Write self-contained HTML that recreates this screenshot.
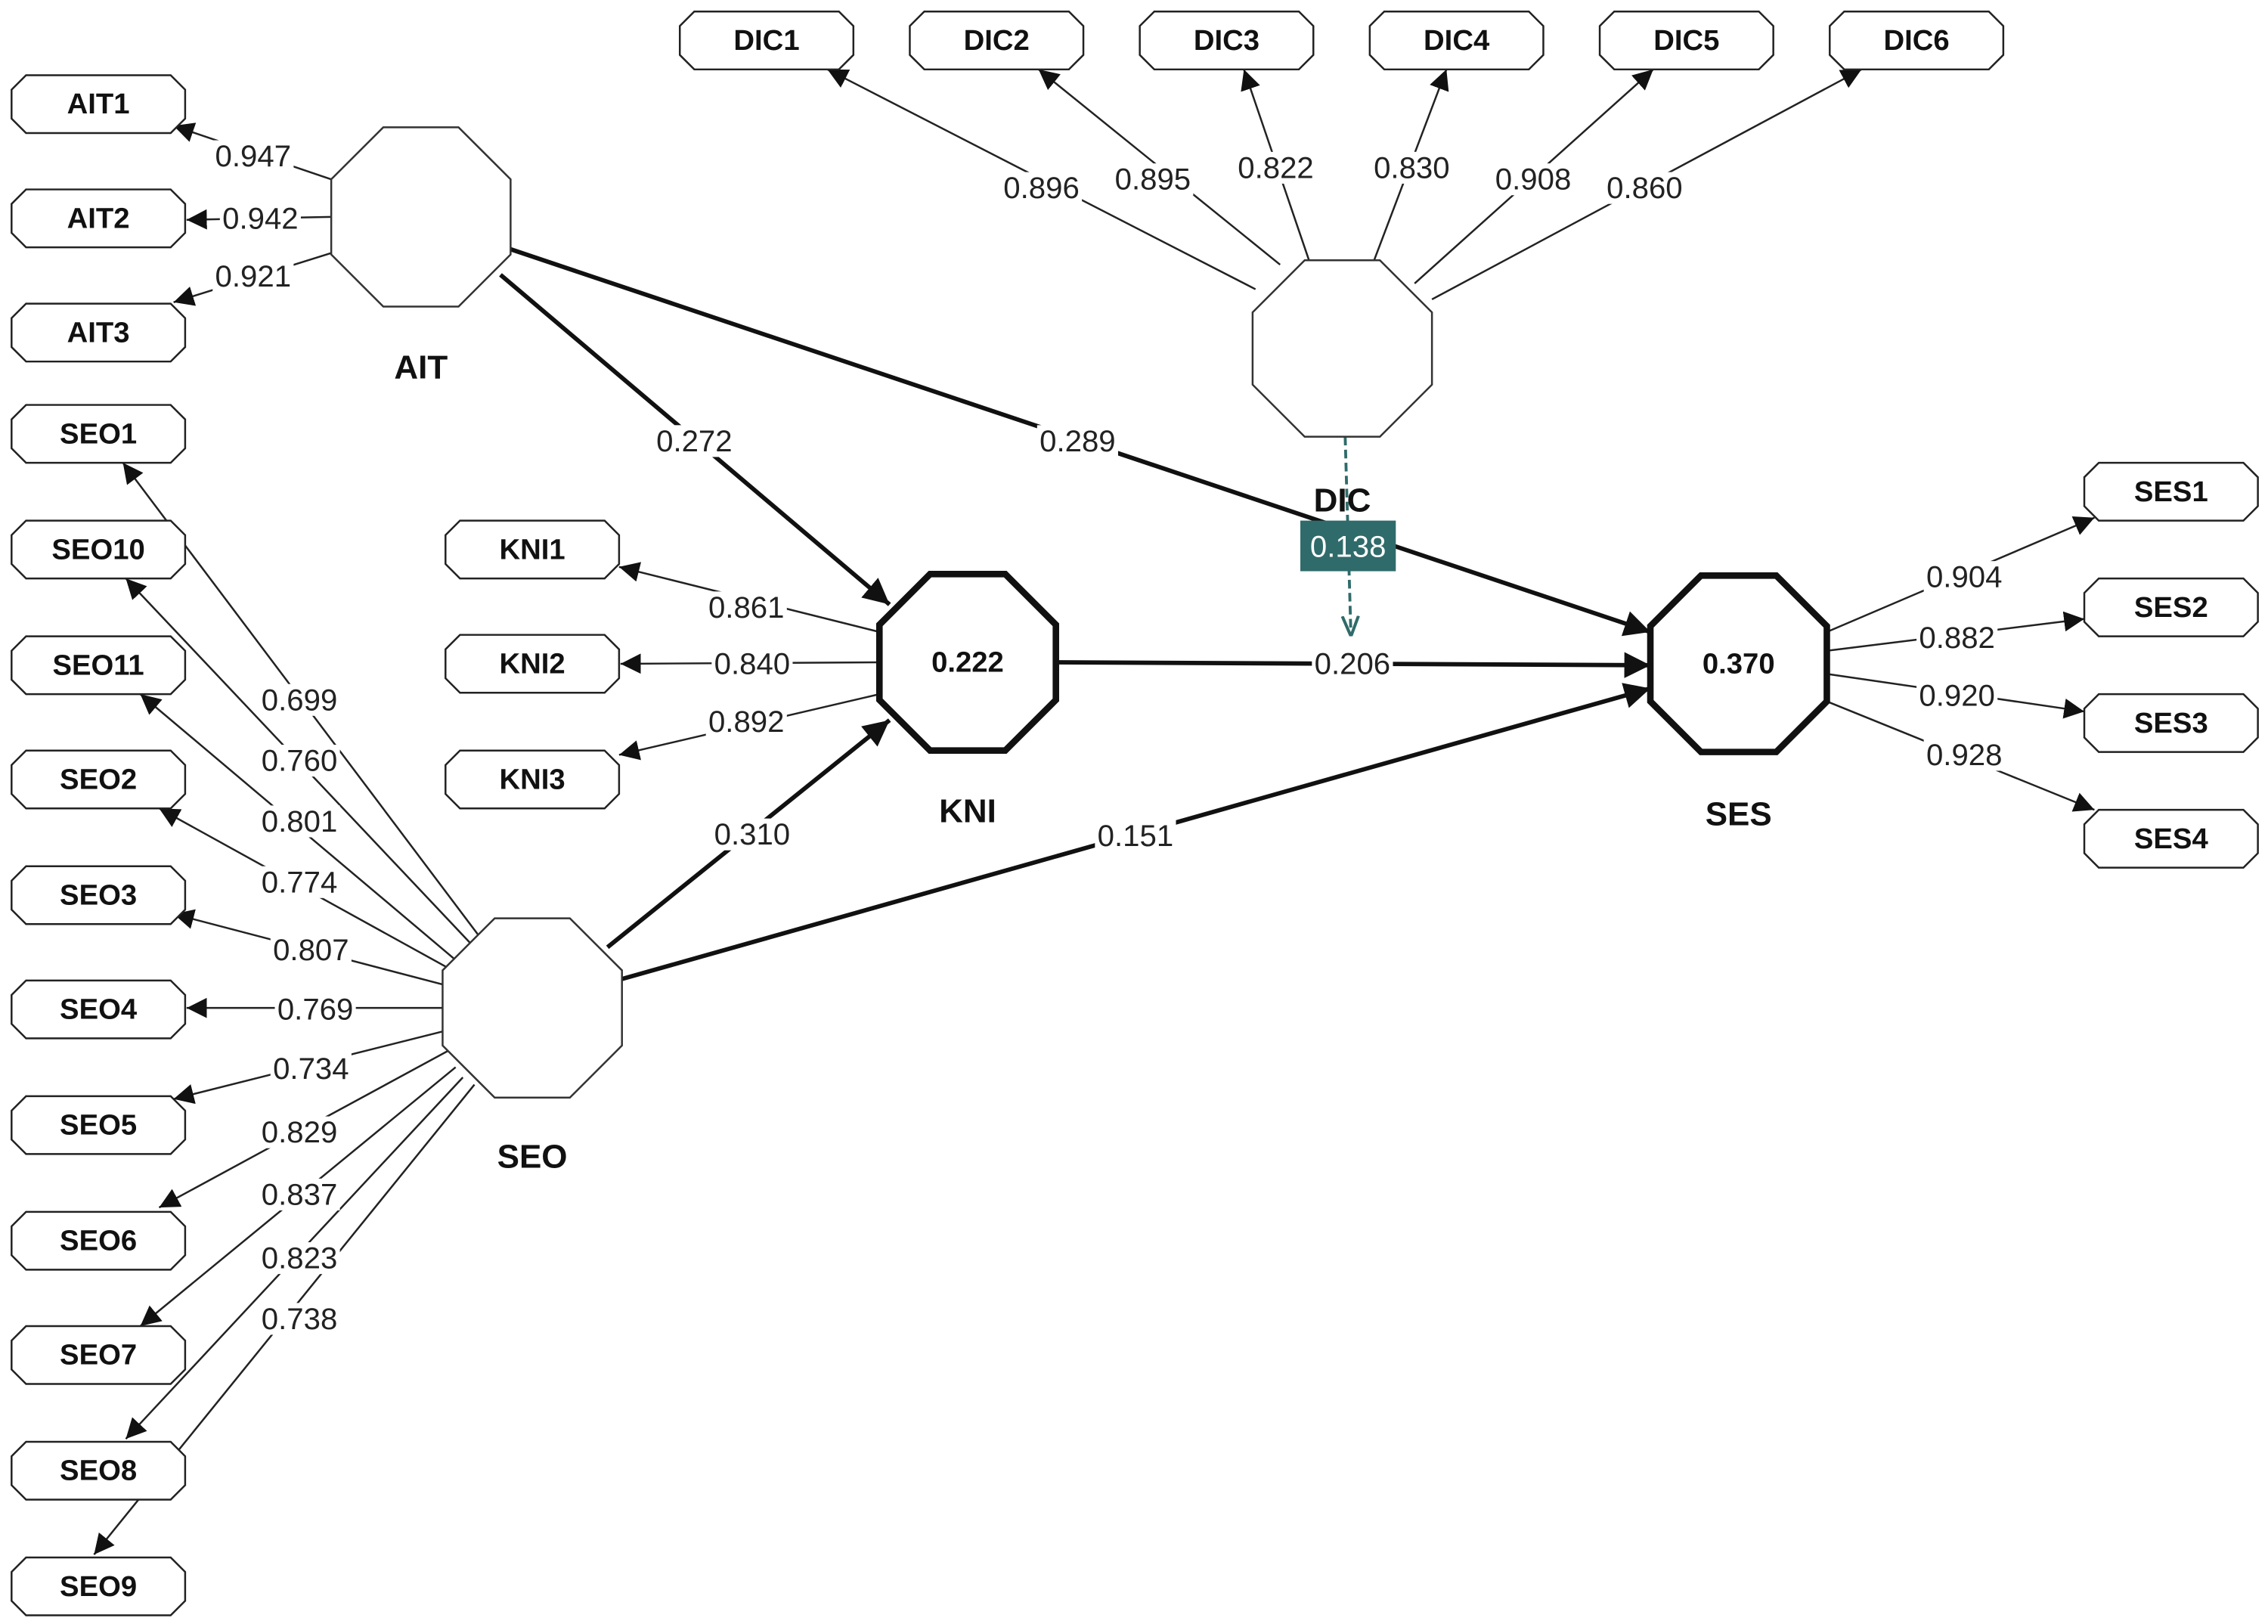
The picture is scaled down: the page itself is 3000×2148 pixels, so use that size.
<!DOCTYPE html>
<html><head><meta charset="utf-8"><style>
html,body{margin:0;padding:0;background:#fff;}
svg{display:block;}
text{font-family:"Liberation Sans",sans-serif;}
.lbl{font-size:21px;fill:#222;text-anchor:middle;dominant-baseline:central;}
.bx{font-size:20px;font-weight:bold;fill:#111;text-anchor:middle;dominant-baseline:central;}
.nm{font-size:23px;font-weight:bold;fill:#111;text-anchor:middle;dominant-baseline:central;}
.l{stroke:#222;stroke-width:1.3;fill:none;marker-end:url(#a);}
.s{stroke:#111;stroke-width:3;fill:none;marker-end:url(#b);}
.box{fill:#fff;stroke:#222;stroke-width:1.3;}
</style></head><body>
<svg width="3000" height="2148" viewBox="0 0 1568 1123" preserveAspectRatio="none">
<defs>
<marker id="a" viewBox="0 0 10 10" refX="10" refY="5" markerWidth="14" markerHeight="14" markerUnits="userSpaceOnUse" orient="auto"><path d="M0,0L10,5L0,10z" fill="#111"/></marker>
<marker id="b" viewBox="0 0 10 10" refX="10" refY="5" markerWidth="18" markerHeight="18" markerUnits="userSpaceOnUse" orient="auto"><path d="M0,0L10,5L0,10z" fill="#111"/></marker>
<marker id="c" viewBox="0 0 10 10" refX="10" refY="5" markerWidth="14" markerHeight="14" markerUnits="userSpaceOnUse" orient="auto"><path d="M0,1L10,5L0,9" fill="none" stroke="#2f6b6a" stroke-width="1.5"/></marker>
<rect id="lb" x="-28" y="-11" width="56" height="22" fill="#fff"/>
</defs>

<line class="l" x1="229" y1="124" x2="120" y2="87"/>
<line class="l" x1="229" y1="150" x2="129" y2="152"/>
<line class="l" x1="229" y1="175" x2="120" y2="209"/>

<line class="l" x1="868" y1="200" x2="572" y2="48"/>
<line class="l" x1="885" y1="183" x2="718" y2="48"/>
<line class="l" x1="905" y1="180" x2="860" y2="48"/>
<line class="l" x1="950" y1="180" x2="1000" y2="48"/>
<line class="l" x1="978" y1="196" x2="1143" y2="48"/>
<line class="l" x1="990" y1="207" x2="1287" y2="48"/>

<line class="l" x1="608" y1="437" x2="428" y2="392"/>
<line class="l" x1="608" y1="458" x2="429" y2="459"/>
<line class="l" x1="608" y1="480" x2="428" y2="522"/>

<line class="l" x1="1263" y1="437" x2="1448" y2="358"/>
<line class="l" x1="1263" y1="450" x2="1441" y2="428"/>
<line class="l" x1="1263" y1="466" x2="1441" y2="492"/>
<line class="l" x1="1263" y1="485" x2="1448" y2="560"/>

<line class="l" x1="331" y1="647" x2="85" y2="320"/>
<line class="l" x1="325" y1="652" x2="87" y2="400"/>
<line class="l" x1="314" y1="663" x2="97" y2="480"/>
<line class="l" x1="311" y1="670" x2="110" y2="559"/>
<line class="l" x1="307" y1="681" x2="120" y2="632"/>
<line class="l" x1="307" y1="697" x2="129" y2="697"/>
<line class="l" x1="307" y1="713" x2="120" y2="760"/>
<line class="l" x1="311" y1="726" x2="110" y2="835"/>
<line class="l" x1="315" y1="738" x2="97" y2="917"/>
<line class="l" x1="320" y1="745" x2="87" y2="995"/>
<line class="l" x1="328" y1="750" x2="65" y2="1075"/>

<line class="s" x1="346" y1="190" x2="615" y2="418"/>
<line class="s" x1="352" y1="172" x2="1141" y2="437"/>
<line class="s" x1="730" y1="458" x2="1141" y2="460"/>
<line class="s" x1="420" y1="655" x2="615" y2="498"/>
<line class="s" x1="430" y1="677" x2="1141" y2="476"/>
<line x1="930" y1="302" x2="934" y2="440" stroke="#2f6b6a" stroke-width="2" stroke-dasharray="6,3" marker-end="url(#c)"/>

<g fill="#fff" stroke="#333" stroke-width="1.3">
<polygon points="265,88 317,88 353,124 353,176 317,212 265,212 229,176 229,124"/>
<polygon points="902,180 954,180 990,216 990,266 954,302 902,302 866,266 866,216"/>
<polygon points="342,635 394,635 430,671 430,723 394,759 342,759 306,723 306,671"/>
</g>
<g fill="#fff" stroke="#111" stroke-width="4.5">
<polygon points="643,397 695,397 730,432 730,484 695,519 643,519 608,484 608,432"/>
<polygon points="1176,398 1228,398 1263,433 1263,485 1228,520 1176,520 1141,485 1141,433"/>
</g>
<text class="bx" x="669" y="458">0.222</text>
<text class="bx" x="1202" y="459">0.370</text>
<text class="nm" x="291" y="254">AIT</text>
<text class="nm" x="928" y="346">DIC</text>
<text class="nm" x="669" y="561">KNI</text>
<text class="nm" x="1202" y="563">SES</text>
<text class="nm" x="368" y="800">SEO</text>

<rect x="899" y="360" width="66" height="35" fill="#2f6b6a"/>
<text x="932" y="378" font-size="21" fill="#fff" text-anchor="middle" dominant-baseline="central">0.138</text>

<g>
<use href="#lb" x="175" y="108"/><text class="lbl" x="175" y="108">0.947</text>
<use href="#lb" x="180" y="151"/><text class="lbl" x="180" y="151">0.942</text>
<use href="#lb" x="175" y="191"/><text class="lbl" x="175" y="191">0.921</text>
<use href="#lb" x="720" y="130"/><text class="lbl" x="720" y="130">0.896</text>
<use href="#lb" x="797" y="124"/><text class="lbl" x="797" y="124">0.895</text>
<use href="#lb" x="882" y="116"/><text class="lbl" x="882" y="116">0.822</text>
<use href="#lb" x="976" y="116"/><text class="lbl" x="976" y="116">0.830</text>
<use href="#lb" x="1060" y="124"/><text class="lbl" x="1060" y="124">0.908</text>
<use href="#lb" x="1137" y="130"/><text class="lbl" x="1137" y="130">0.860</text>
<use href="#lb" x="516" y="420"/><text class="lbl" x="516" y="420">0.861</text>
<use href="#lb" x="520" y="459"/><text class="lbl" x="520" y="459">0.840</text>
<use href="#lb" x="516" y="499"/><text class="lbl" x="516" y="499">0.892</text>
<use href="#lb" x="1358" y="399"/><text class="lbl" x="1358" y="399">0.904</text>
<use href="#lb" x="1353" y="441"/><text class="lbl" x="1353" y="441">0.882</text>
<use href="#lb" x="1353" y="481"/><text class="lbl" x="1353" y="481">0.920</text>
<use href="#lb" x="1358" y="522"/><text class="lbl" x="1358" y="522">0.928</text>
<use href="#lb" x="480" y="305"/><text class="lbl" x="480" y="305">0.272</text>
<use href="#lb" x="745" y="305"/><text class="lbl" x="745" y="305">0.289</text>
<use href="#lb" x="935" y="459"/><text class="lbl" x="935" y="459">0.206</text>
<use href="#lb" x="520" y="577"/><text class="lbl" x="520" y="577">0.310</text>
<use href="#lb" x="785" y="578"/><text class="lbl" x="785" y="578">0.151</text>
<use href="#lb" x="207" y="484"/><text class="lbl" x="207" y="484">0.699</text>
<use href="#lb" x="207" y="526"/><text class="lbl" x="207" y="526">0.760</text>
<use href="#lb" x="207" y="568"/><text class="lbl" x="207" y="568">0.801</text>
<use href="#lb" x="207" y="610"/><text class="lbl" x="207" y="610">0.774</text>
<use href="#lb" x="215" y="657"/><text class="lbl" x="215" y="657">0.807</text>
<use href="#lb" x="218" y="698"/><text class="lbl" x="218" y="698">0.769</text>
<use href="#lb" x="215" y="739"/><text class="lbl" x="215" y="739">0.734</text>
<use href="#lb" x="207" y="783"/><text class="lbl" x="207" y="783">0.829</text>
<use href="#lb" x="207" y="826"/><text class="lbl" x="207" y="826">0.837</text>
<use href="#lb" x="207" y="870"/><text class="lbl" x="207" y="870">0.823</text>
<use href="#lb" x="207" y="912"/><text class="lbl" x="207" y="912">0.738</text>
</g>

<g>
<path class="box" d="M18,52H118L128,62V82L118,92H18L8,82V62Z"/><text class="bx" x="68" y="72">AIT1</text>
<path class="box" d="M18,131H118L128,141V161L118,171H18L8,161V141Z"/><text class="bx" x="68" y="151">AIT2</text>
<path class="box" d="M18,210H118L128,220V240L118,250H18L8,240V220Z"/><text class="bx" x="68" y="230">AIT3</text>

<path class="box" d="M480,8H580L590,18V38L580,48H480L470,38V18Z"/><text class="bx" x="530" y="28">DIC1</text>
<path class="box" d="M639,8H739L749,18V38L739,48H639L629,38V18Z"/><text class="bx" x="689" y="28">DIC2</text>
<path class="box" d="M798,8H898L908,18V38L898,48H798L788,38V18Z"/><text class="bx" x="848" y="28">DIC3</text>
<path class="box" d="M957,8H1057L1067,18V38L1057,48H957L947,38V18Z"/><text class="bx" x="1007" y="28">DIC4</text>
<path class="box" d="M1116,8H1216L1226,18V38L1216,48H1116L1106,38V18Z"/><text class="bx" x="1166" y="28">DIC5</text>
<path class="box" d="M1275,8H1375L1385,18V38L1375,48H1275L1265,38V18Z"/><text class="bx" x="1325" y="28">DIC6</text>

<path class="box" d="M318,360H418L428,370V390L418,400H318L308,390V370Z"/><text class="bx" x="368" y="380">KNI1</text>
<path class="box" d="M318,439H418L428,449V469L418,479H318L308,469V449Z"/><text class="bx" x="368" y="459">KNI2</text>
<path class="box" d="M318,519H418L428,529V549L418,559H318L308,549V529Z"/><text class="bx" x="368" y="539">KNI3</text>

<path class="box" d="M1451,320H1551L1561,330V350L1551,360H1451L1441,350V330Z"/><text class="bx" x="1501" y="340">SES1</text>
<path class="box" d="M1451,400H1551L1561,410V430L1551,440H1451L1441,430V410Z"/><text class="bx" x="1501" y="420">SES2</text>
<path class="box" d="M1451,480H1551L1561,490V510L1551,520H1451L1441,510V490Z"/><text class="bx" x="1501" y="500">SES3</text>
<path class="box" d="M1451,560H1551L1561,570V590L1551,600H1451L1441,590V570Z"/><text class="bx" x="1501" y="580">SES4</text>

<path class="box" d="M18,280H118L128,290V310L118,320H18L8,310V290Z"/><text class="bx" x="68" y="300">SEO1</text>
<path class="box" d="M18,360H118L128,370V390L118,400H18L8,390V370Z"/><text class="bx" x="68" y="380">SEO10</text>
<path class="box" d="M18,440H118L128,450V470L118,480H18L8,470V450Z"/><text class="bx" x="68" y="460">SEO11</text>
<path class="box" d="M18,519H118L128,529V549L118,559H18L8,549V529Z"/><text class="bx" x="68" y="539">SEO2</text>
<path class="box" d="M18,599H118L128,609V629L118,639H18L8,629V609Z"/><text class="bx" x="68" y="619">SEO3</text>
<path class="box" d="M18,678H118L128,688V708L118,718H18L8,708V688Z"/><text class="bx" x="68" y="698">SEO4</text>
<path class="box" d="M18,758H118L128,768V788L118,798H18L8,788V768Z"/><text class="bx" x="68" y="778">SEO5</text>
<path class="box" d="M18,838H118L128,848V868L118,878H18L8,868V848Z"/><text class="bx" x="68" y="858">SEO6</text>
<path class="box" d="M18,917H118L128,927V947L118,957H18L8,947V927Z"/><text class="bx" x="68" y="937">SEO7</text>
<path class="box" d="M18,997H118L128,1007V1027L118,1037H18L8,1027V1007Z"/><text class="bx" x="68" y="1017">SEO8</text>
<path class="box" d="M18,1077H118L128,1087V1107L118,1117H18L8,1107V1087Z"/><text class="bx" x="68" y="1097">SEO9</text>
</g>
</svg>
</body></html>
